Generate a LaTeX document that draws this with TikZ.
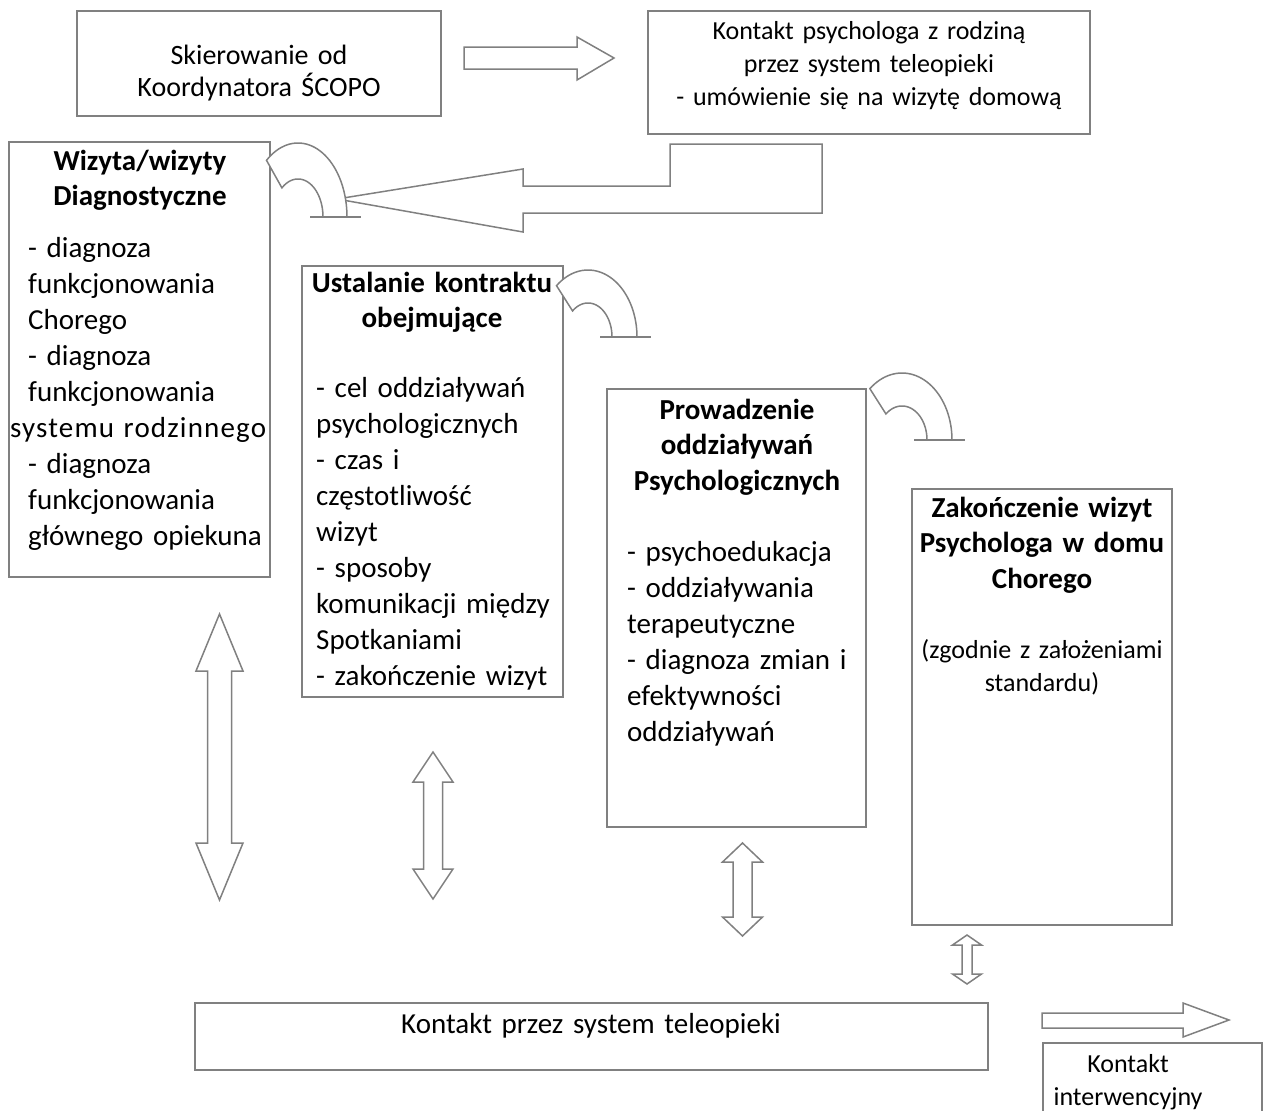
\documentclass[tikz,border=0pt]{standalone}
\usepackage{fontspec}
\setmainfont{Carlito}
\definecolor{linegray}{HTML}{808080}
\tikzset{
  frame/.style={draw=linegray, line width=1.4pt, inner sep=0pt, outer sep=0pt, anchor=north west},
  blockarrow/.style={draw=linegray, line width=1.5pt, fill=white, line join=miter},
  bodytext/.style={font=\fontsize{29}{36}\selectfont, inner sep=0pt, align=left, anchor=base west, text width=280pt},
  headtext/.style={font=\bfseries\fontsize{29}{35.5}\selectfont, inner sep=0pt, align=center, anchor=base, text width=300pt},
  smalltext/.style={font=\fontsize{26}{33}\selectfont, inner sep=0pt, align=center, anchor=base, text width=440pt},
}
% vertical double block arrow: centre x, top tip, bottom tip, head half width, shaft half width, head length
\newcommand\vdblarrow[6]{%
  \draw[blockarrow] (#1,#2) -- ({#1+#4},{#2+#6}) -- ({#1+#5},{#2+#6}) -- ({#1+#5},{#3-#6})
    -- ({#1+#4},{#3-#6}) -- (#1,#3) -- ({#1-#4},{#3-#6}) -- ({#1-#5},{#3-#6})
    -- ({#1-#5},{#2+#6}) -- ({#1-#4},{#2+#6}) -- cycle;}
% bent arrow: centre x, centre y, outer radii, inner radii
\newcommand\bentarrow[6]{%
  \draw[blockarrow] ({#1+#5},#2)
    -- plot[domain=0:130, samples=40, variable=\t] ({#1+#5*cos(\t)},{#2-#6*sin(\t)})
    -- plot[domain=130:0, samples=40, variable=\t] ({#1+#3*cos(\t)},{#2-#4*sin(\t)});
  \draw[draw=linegray, line width=1.6pt] ({#1+12},#2) -- ({#1+63},#2);}
\begin{document}
\begin{tikzpicture}[x=1pt, y=-1pt]
\useasboundingbox (0,0) rectangle (1270,1111);
\clip (0,0) rectangle (1270,1111);

% boxes
\node[frame, minimum width=364pt, minimum height=105pt] (skier) at (77,11) {};
\node[frame, minimum width=442pt, minimum height=123pt] (kontakt) at (648,11) {};
\node[frame, minimum width=261pt, minimum height=435pt] (wizyta) at (9,142) {};
\node[frame, minimum width=261pt, minimum height=431pt] (ustal) at (302,266) {};
\node[frame, minimum width=259pt, minimum height=438pt] (prowadz) at (607,389) {};
\node[frame, minimum width=260pt, minimum height=436pt] (zakon) at (912,489) {};
\node[frame, minimum width=793pt, minimum height=67pt] (tele) at (195,1003) {};
\node[frame, minimum width=219pt, minimum height=90pt] (interw) at (1043,1043) {};

% texts
\node[smalltext, font=\fontsize{28}{32}\selectfont] (tskier) at (259,64) {Skierowanie od\\Koordynatora ŚCOPO};
\node[smalltext] (tkontakt) at (869,39) {Kontakt psychologa z rodziną\\przez system teleopieki\\- umówienie się na wizytę domową};

\node[headtext] (hwizyta) at (140,170) {Wizyta/wizyty\\Diagnostyczne};
\node[bodytext] (twizyta) at (28,257) {- diagnoza\\funkcjonowania\\Chorego\\- diagnoza\\funkcjonowania\\\hspace*{-18pt}{\addfontfeature{LetterSpace=4}systemu rodzinnego}\\- diagnoza\\funkcjonowania\\głównego opiekuna};

\node[headtext] (hustal) at (432,292) {Ustalanie kontraktu\\obejmujące};
\node[bodytext] (tustal) at (316,397) {- cel oddziaływań\\psychologicznych\\- czas i\\częstotliwość\\wizyt\\- sposoby\\komunikacji między\\Spotkaniami\\- zakończenie wizyt};

\node[headtext] (hprowadz) at (737,419) {Prowadzenie\\oddziaływań\\Psychologicznych};
\node[bodytext] (tprowadz) at (627,561) {- psychoedukacja\\- oddziaływania\\terapeutyczne\\- diagnoza zmian i\\efektywności\\oddziaływań};

\node[headtext] (hzakon) at (1042,517) {Zakończenie wizyt\\Psychologa w domu\\Chorego};
\node[smalltext] (tzakon) at (1042,658) {(zgodnie z założeniami\\standardu)};

\node[smalltext, font=\fontsize{29}{36}\selectfont] (ttele) at (591,1033) {Kontakt przez system teleopieki};
\node[smalltext, font=\fontsize{26}{33}\selectfont] (tinterw) at (1128,1072) {Kontakt\\interwencyjny};

% straight block arrows
\draw[blockarrow] (464,47) -- (577,47) -- (577,37) -- (614,58) -- (577,80) -- (577,69) -- (464,69) -- cycle;
\draw[blockarrow] (337,199) -- (523,169) -- (523,186) -- (670,186) -- (670,144) -- (822,144)
  -- (822,213) -- (523,213) -- (523,232) -- cycle;
\draw[blockarrow] (1042,1013) -- (1183,1013) -- (1183,1003) -- (1229,1020) -- (1183,1037) -- (1183,1028) -- (1042,1028) -- cycle;

% bent arrows
\bentarrow{298}{217}{49}{74}{25}{38}
\bentarrow{588}{337}{49}{67}{24}{34}
\bentarrow{902}{440}{50}{67}{25}{34}

% vertical double arrows
\vdblarrow{219.5}{614}{900}{23.5}{12}{57}
\vdblarrow{433}{752}{899}{20}{9.5}{30}
\vdblarrow{742.5}{843}{936}{20}{9.5}{19}
\vdblarrow{967}{935}{984}{14.5}{5}{10}
\end{tikzpicture}
\end{document}
